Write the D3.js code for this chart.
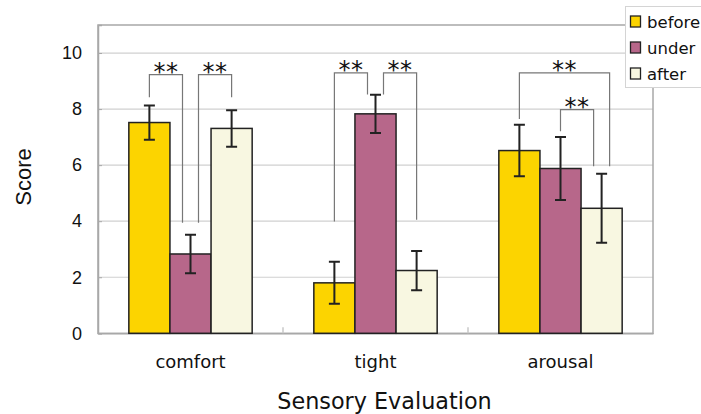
<!DOCTYPE html>
<html>
<head>
<meta charset="utf-8">
<script src="https://cdn.jsdelivr.net/npm/d3@7"></script>
<style>
  html, body { margin: 0; padding: 0; background: #fff; }
  svg { display: block; }
</style>
</head>
<body>
<svg id="chart" width="701" height="414"></svg>
<script>
// Sensory evaluation scores (mean ± SD) for three wearing conditions
const categories = ["comfort", "tight", "arousal"];
const seriesNames = ["before", "under", "after"];
const beforeMean = [7.52, 1.80, 6.52];
const beforeErr  = [0.61, 0.75, 0.92];
const underMean  = [2.83, 7.83, 5.88];
const underErr   = [0.69, 0.68, 1.12];
const afterMean  = [7.31, 2.24, 4.46];
const afterErr   = [0.65, 0.70, 1.23];
const yTicks = [0, 2, 4, 6, 8, 10];

// Significance brackets: [category, from series, to series,
//   leg-from level, bracket level, leg-to level, leg side from, leg side to]
const brackets = [
  ["comfort", "before", "under", 8.42, 9.23, 3.94, 0, -1],
  ["comfort", "under",  "after", 3.94, 9.23, 8.42, 1, 0],
  ["tight",   "before", "under", 3.99, 9.29, 8.52, 0, -1],
  ["tight",   "under",  "after", 8.52, 9.29, 4.05, 1, 0],
  ["arousal", "before", "after", 7.65, 9.29, 5.96, 0, 1],
  ["arousal", "under",  "after", 7.21, 7.98, 5.96, 0, -1]
];

const colors = { before: "#FCD400", under: "#B7678A", after: "#F8F7E1" };

const means = { before: beforeMean, under: underMean, after: afterMean };
const errs  = { before: beforeErr,  under: underErr,  after: afterErr };
const rows = [];
categories.forEach((c, i) => {
  seriesNames.forEach(s => rows.push({ cat: c, series: s, value: means[s][i], err: errs[s][i] }));
});

const svg = d3.select("#chart");
const plot = { left: 98, right: 653, top: 25, bottom: 333.3 };

const x0 = d3.scaleBand().domain(categories).range([plot.left, plot.right]);
const x1 = d3.scaleBand().domain(seriesNames).range([0, x0.bandwidth()]).paddingOuter(0.75);
const y = d3.scaleLinear().domain([0, 11]).range([plot.bottom, plot.top]);

const legOffset = 8;
const barCenter = (c, s) => x0(c) + x1(s) + x1.bandwidth() / 2;

// Horizontal grid
svg.append("g")
  .selectAll("line")
  .data(yTicks.filter(t => t > 0))
  .join("line")
  .attr("x1", plot.left).attr("x2", plot.right)
  .attr("y1", d => y(d)).attr("y2", d => y(d))
  .attr("stroke", "#d0d0d0").attr("stroke-width", 1.2);

// Plot frame
svg.append("rect")
  .attr("x", plot.left).attr("y", plot.top)
  .attr("width", plot.right - plot.left).attr("height", plot.bottom - plot.top)
  .attr("fill", "none").attr("stroke", "#a8a8a8").attr("stroke-width", 1.5);

// Y axis
const yAxis = d3.axisLeft(y).tickValues(yTicks).tickSize(-4).tickPadding(16);
const gy = svg.append("g").attr("transform", `translate(${plot.left},0)`).call(yAxis);
gy.select(".domain").attr("stroke", "#a8a8a8").attr("stroke-width", 1.5);
gy.selectAll(".tick line").attr("stroke", "#a8a8a8");
gy.selectAll(".tick text")
  .attr("font-family", "'Liberation Sans', Arial, sans-serif")
  .attr("font-size", 18).attr("fill", "#111");

// X axis
const xAxis = d3.axisBottom(x0).tickSize(0).tickPadding(22);
const gx = svg.append("g").attr("transform", `translate(0,${plot.bottom})`).call(xAxis);
gx.select(".domain").attr("stroke", "#a8a8a8").attr("stroke-width", 1.5);
gx.selectAll(".tick text")
  .attr("font-family", "'DejaVu Sans', sans-serif")
  .attr("font-size", 18).attr("fill", "#111");

// Category separators
svg.append("g")
  .selectAll("line")
  .data(categories.slice(1))
  .join("line")
  .attr("x1", d => x0(d)).attr("x2", d => x0(d))
  .attr("y1", plot.bottom).attr("y2", plot.bottom - 6)
  .attr("stroke", "#c8c8c8").attr("stroke-width", 1.5);

// Bars
svg.append("g")
  .selectAll("rect")
  .data(rows)
  .join("rect")
  .attr("x", d => x0(d.cat) + x1(d.series))
  .attr("y", d => y(d.value))
  .attr("width", x1.bandwidth())
  .attr("height", d => y(0) - y(d.value))
  .attr("fill", d => colors[d.series])
  .attr("stroke", "#222").attr("stroke-width", 1.5);

// Error bars
const eb = svg.append("g").attr("stroke", "#222").attr("stroke-width", 2).attr("fill", "none");
eb.selectAll("path")
  .data(rows)
  .join("path")
  .attr("d", d => {
    const cx = barCenter(d.cat, d.series);
    const t = y(d.value + d.err), b = y(d.value - d.err), w = 5.5;
    return `M${cx},${t}V${b}M${cx - w},${t}H${cx + w}M${cx - w},${b}H${cx + w}`;
  });

// Significance brackets
const bg = svg.append("g");
brackets.forEach(([c, s1, s2, yA, yTop, yB, sideA, sideB]) => {
  const xa = barCenter(c, s1) + sideA * legOffset;
  const xb = barCenter(c, s2) + sideB * legOffset;
  bg.append("path")
    .attr("d", `M${xa},${y(yA)}V${y(yTop)}H${xb}V${y(yB)}`)
    .attr("fill", "none").attr("stroke", "#777").attr("stroke-width", 1.2);
  bg.append("text")
    .attr("x", (xa + xb) / 2).attr("y", y(yTop) + 5)
    .attr("text-anchor", "middle")
    .attr("font-family", "'DejaVu Sans', sans-serif")
    .attr("font-size", 24).attr("fill", "#111")
    .attr("letter-spacing", 0.5)
    .text("**");
});

// Axis titles
svg.append("text")
  .attr("x", 384.5).attr("y", 409)
  .attr("text-anchor", "middle")
  .attr("font-family", "'DejaVu Sans', sans-serif")
  .attr("font-size", 22.3).attr("fill", "#111")
  .text("Sensory Evaluation");

svg.append("text")
  .attr("transform", `translate(31,${177}) rotate(-90)`)
  .attr("text-anchor", "middle")
  .attr("font-family", "'Liberation Sans', Arial, sans-serif")
  .attr("font-size", 22).attr("fill", "#111")
  .text("Score");

// Legend
const lg = svg.append("g");
lg.append("rect")
  .attr("x", 625.5).attr("y", 6.5).attr("width", 90).attr("height", 81)
  .attr("fill", "#fff").attr("stroke", "#d4d4d4").attr("stroke-width", 1);
seriesNames.forEach((s, i) => {
  const yy = 16 + i * 26;
  lg.append("rect")
    .attr("x", 630.5).attr("y", yy).attr("width", 10).attr("height", 11)
    .attr("fill", colors[s]).attr("stroke", "#222").attr("stroke-width", 1.3);
  lg.append("text")
    .attr("x", 647).attr("y", yy + 11.5)
    .attr("font-family", "'DejaVu Sans', sans-serif")
    .attr("font-size", 16.5).attr("fill", "#111")
    .text(s);
});
</script>
</body>
</html>
